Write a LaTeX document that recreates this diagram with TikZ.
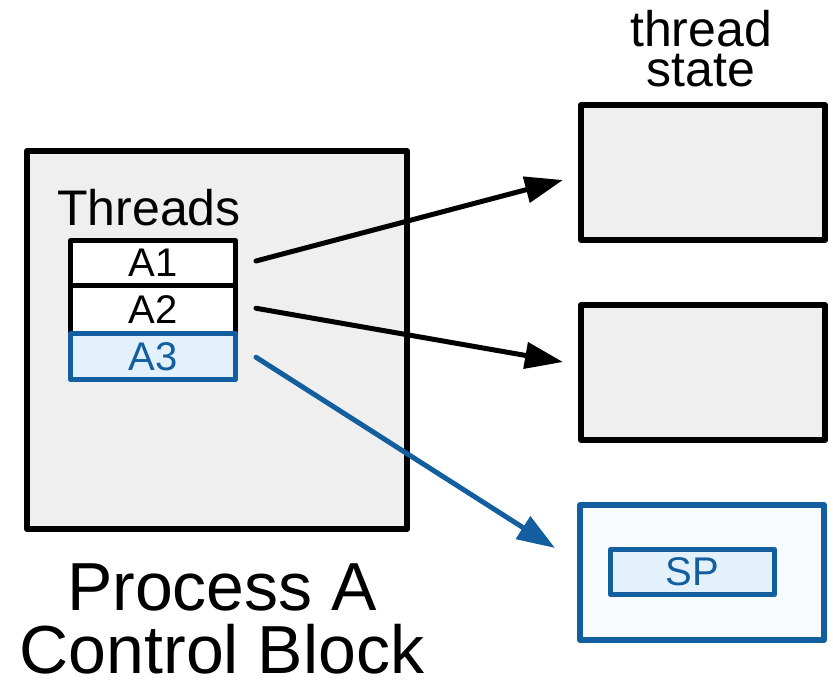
\documentclass[tikz,border=0pt]{standalone}
\usepackage{fontspec}
\setmainfont{Liberation Sans}
\usetikzlibrary{arrows.meta}
\definecolor{bblue}{HTML}{135E9E}
\definecolor{lblue}{HTML}{E3F1FC}
\definecolor{vlblue}{HTML}{F7FBFE}
\definecolor{lgray}{HTML}{EFEFEF}
\begin{document}
\begin{tikzpicture}[x=1pt,y=-1pt,
  box/.style={draw=black,fill=lgray,line width=6pt,line join=round,inner sep=0pt,minimum width=244pt,minimum height=135pt},
  row/.style={draw=black,fill=white,line width=5pt,line join=round,inner sep=0pt,minimum width=165pt,font=\fontsize{40}{40}\selectfont},
  conn/.style={line width=5pt,line cap=round,-{Triangle[length=38pt,width=26pt]}},
  big/.style={font=\fontsize{68}{63}\selectfont,align=center,inner sep=0pt},
  mid/.style={font=\fontsize{50}{40}\selectfont,align=center,inner sep=0pt}]
\useasboundingbox (0,0) rectangle (833,682);
% process control block
\node[draw=black,fill=lgray,line width=6pt,line join=round,inner sep=0pt,minimum width=380pt,minimum height=378pt] (pcb) at (217,340) {};
\node[mid,anchor=base west] (thr) at (57,225) {Threads};
\node[row,minimum height=45pt] (a1) at (153,263) {A1};
\node[row,minimum height=47.5pt] (a2) at (153,309.25) {A2};
\node[row,draw=bblue,fill=lblue,text=bblue,minimum height=46.5pt] (a3) at (153,356.25) {A3};
\node[big,anchor=base] (lab) at (222,673) {Process A\\Control Block};
% thread states
\node[mid,anchor=base] (ts) at (701,87) {thread\\state};
\node[box] (s1) at (703,172.5) {};
\node[box] (s2) at (703,372.5) {};
\node[box,draw=bblue,fill=vlblue] (s3) at (702,572.5) {};
\node[draw=bblue,fill=lblue,text=bblue,line width=5pt,line join=round,inner sep=0pt,minimum width=164pt,minimum height=45pt,font=\fontsize{40}{40}\selectfont] (sp) at (692.5,572) {SP};
% connectors
\coordinate (t1) at (563,180);
\coordinate (t2) at (563,362);
\coordinate (t3) at (555,548);
\draw[conn] ([xshift=18pt,yshift=2pt]a1.east) -- (t1);
\draw[conn] ([xshift=18pt,yshift=1pt]a2.east) -- (t2);
\draw[conn,draw=bblue,fill=bblue] ([xshift=18pt,yshift=-1pt]a3.east) -- (t3);
\end{tikzpicture}
\end{document}
